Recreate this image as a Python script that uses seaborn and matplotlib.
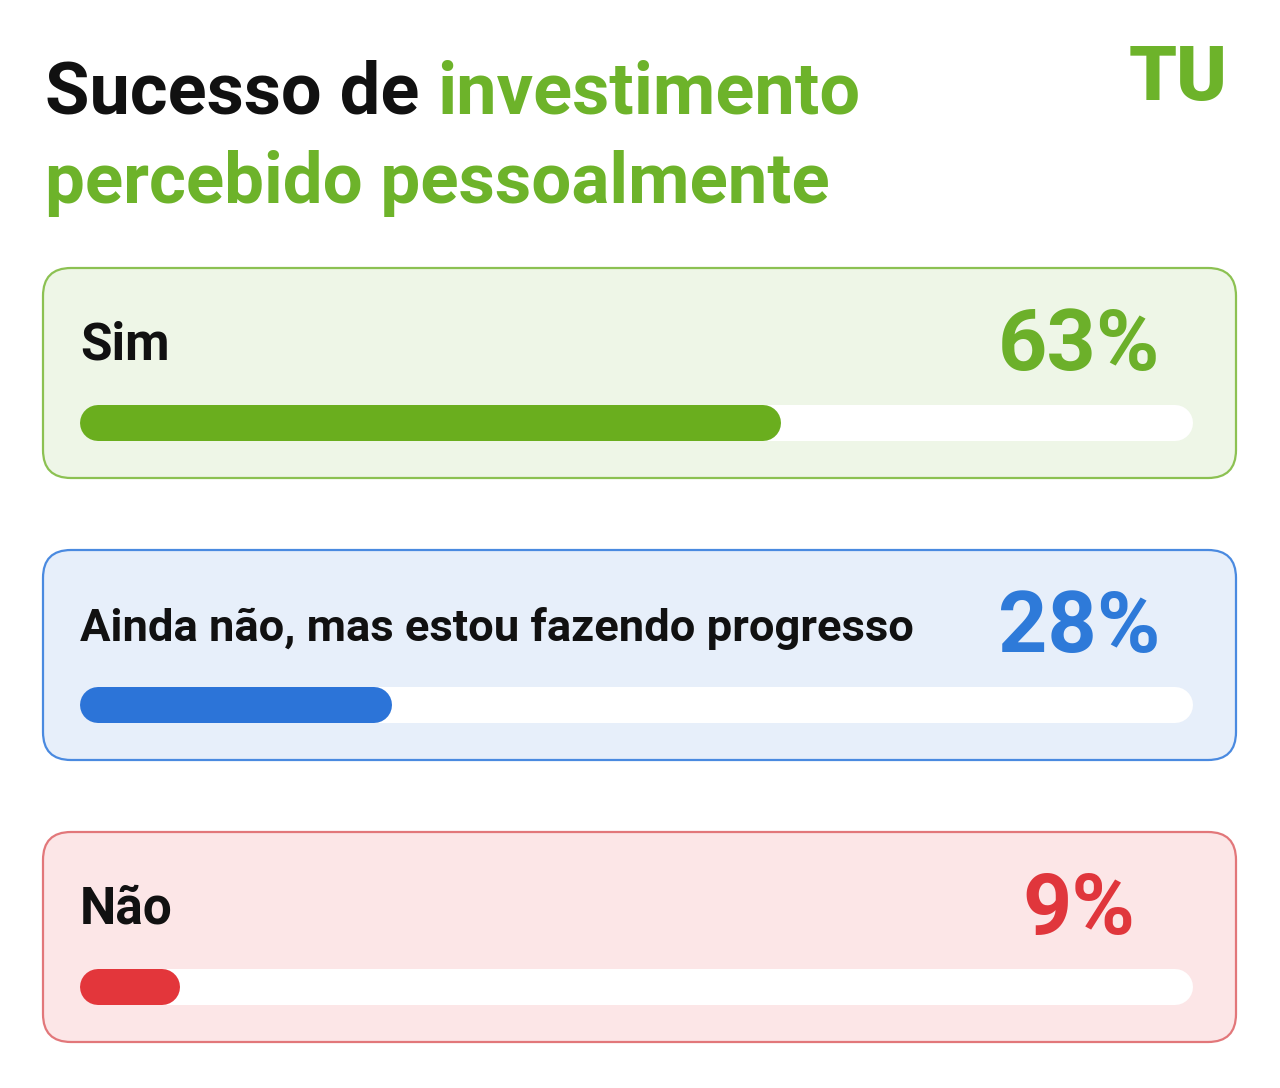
import matplotlib
matplotlib.use("Agg")
import matplotlib.pyplot as plt
from matplotlib.patches import FancyBboxPatch
import seaborn as sns

# Données du graphique
respostas = ["Sim", "Ainda não, mas estou fazendo progresso", "Não"]
percentuais = [63, 28, 9]
cores_barra = ["#6AAE1E", "#2C74D8", "#E3363B"]
cores_texto = ["#6CB02A", "#2E7AD9", "#E0363C"]
cores_fundo = ["#EEF6E7", "#E7EFFA", "#FCE6E7"]
cores_borda = ["#8CC152", "#4A8AE0", "#E2777A"]
tamanhos_rotulo = [37, 32.7, 37]
verde = "#6DB32A"

sns.set_style("white")
plt.rcParams["font.family"] = ["Roboto", "DejaVu Sans"]

W, H = 1280, 1088
fig = plt.figure(figsize=(W / 100, H / 100), dpi=100)
ax = fig.add_axes([0, 0, 1, 1])
ax.set_xlim(0, W)
ax.set_ylim(H, 0)
ax.axis("off")

# Titre (deux couleurs)
t1 = ax.text(45, 113, "Sucesso de ", fontsize=52, fontweight="bold",
             color="#111111", va="baseline")
ax.annotate("investimento", xy=(1, 0), xycoords=t1, va="bottom", ha="left",
            fontsize=52, fontweight="bold", color=verde)
ax.text(45, 203, "percebido pessoalmente", fontsize=51, fontweight="bold",
        color=verde, va="baseline")

# Logo
ax.text(1178, 100, "TU", ha="center", va="baseline", fontsize=55,
        fontweight="black", color=verde)

# Cartes
card_top0, pitch, card_h = 268, 282, 210
x0, x1 = 43, 1236
trk_x0, trk_w = 80, 1113
trk_off, trk_h = 137, 36


def pilule(barre, fc, z):
    # redessine une barre seaborn en pilule (trait à bouts ronds) dans l'axe principal
    ext = barre.get_window_extent()
    (bx0, by0), (bx1, by1) = ax.transData.inverted().transform(
        [[ext.x0, ext.y0], [ext.x1, ext.y1]])
    hh = abs(by1 - by0)
    yc = (by0 + by1) / 2
    r = hh / 2
    ax.plot([bx0 + r, bx1 - r], [yc, yc], color=fc, lw=hh * 72 / 100,
            solid_capstyle="round", zorder=z)


for i, (resp, pct) in enumerate(zip(respostas, percentuais)):
    top = card_top0 + i * pitch
    card = FancyBboxPatch((x0, top), x1 - x0, card_h,
                          boxstyle="round,pad=0,rounding_size=28",
                          fc=cores_fundo[i], ec=cores_borda[i], lw=1.6, zorder=1)
    ax.add_patch(card)
    ax.text(80, top + 91, resp, fontsize=tamanhos_rotulo[i], fontweight="bold",
            color="#111111", va="baseline")
    ax.text(1079, top + 102, f"{pct}%", fontsize=62, fontweight="bold",
            color=cores_texto[i], ha="center", va="baseline")

    # Barre de progression (échelle 0-100 de seaborn)
    tb = top + trk_off
    tax = fig.add_axes([trk_x0 / W, 1 - (tb + trk_h) / H, trk_w / W, trk_h / H])
    sns.barplot(x=[pct], y=[resp], orient="h", color=cores_barra[i],
                width=1.0, saturation=1, errorbar=None, ax=tax)
    tax.set_xlim(0, 100)
    tax.set_ylim(-0.5, 0.5)
    tax.axis("off")
    barra = tax.patches[0]

    # piste blanche sur toute l'échelle
    piste = tax.barh([0], [100], height=1.0, color="white")[0]
    for p, cor, z in [(piste, "white", 2), (barra, cores_barra[i], 3)]:
        p.set_visible(False)
        pilule(p, cor, z)

plt.savefig("out.png", dpi=100)
